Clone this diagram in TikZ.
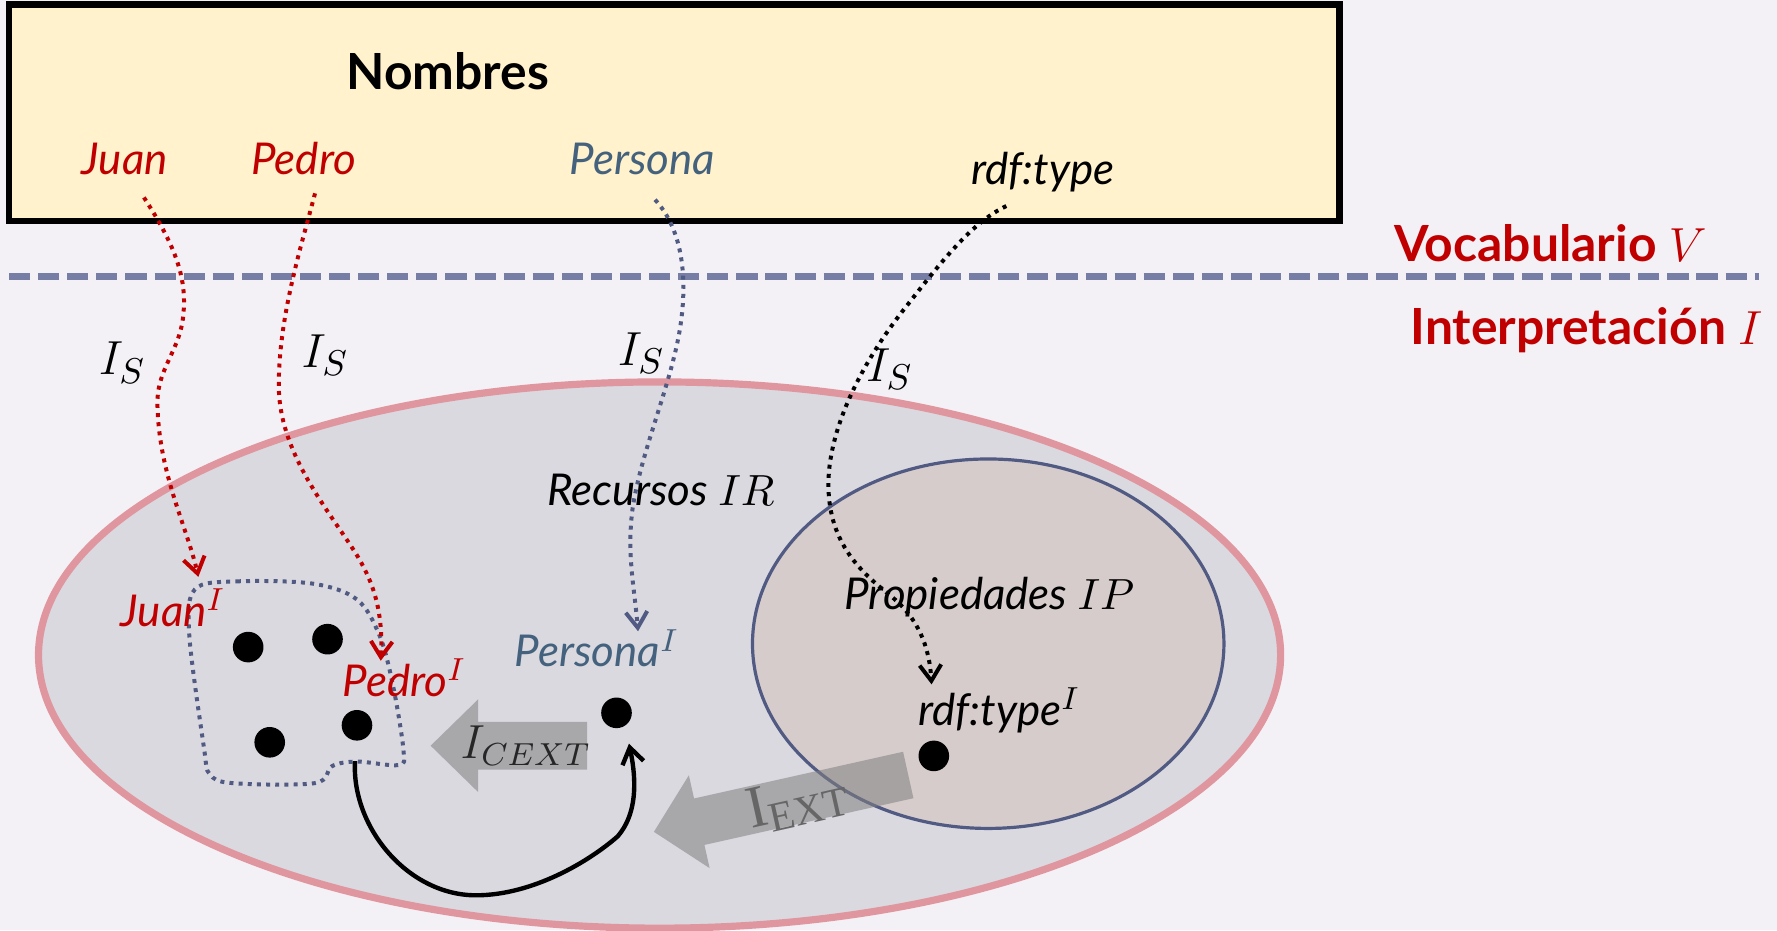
\documentclass[tikz,border=0pt]{standalone}
\usepackage{fontspec}
\setmainfont{Lato}
\newfontfamily\serifa{Liberation Serif}
\usetikzlibrary{arrows.meta, calc}

\definecolor{fondo}{RGB}{243,241,246}
\definecolor{caja}{RGB}{255,242,204}
\definecolor{rojo}{RGB}{192,0,0}
\definecolor{pizarra}{RGB}{68,98,125}
\definecolor{divisor}{RGB}{118,126,166}
\definecolor{recursos}{RGB}{218,217,224}
\definecolor{rosa}{RGB}{224,150,158}
\definecolor{propiedades}{RGB}{215,204,204}
\definecolor{azulosc}{RGB}{80,90,130}

\begin{document}
\begin{tikzpicture}[x=0.01cm, y=-0.01cm,
        % --- ESTILOS ---
        % 1. Nombres del vocabulario y sus interpretaciones
        nombre/.style={font=\itshape\fontsize{11}{13}\selectfont, inner sep=1pt},
        % 2. Rótulos de zona (Vocabulario / Interpretación)
        zona/.style={font=\bfseries\fontsize{12.5}{15}\selectfont, text=rojo, inner sep=1pt},
        % 3. Flechas punteadas de I_S
        interp/.style={line width=1pt, dash pattern=on 1pt off 1.3pt,
                -{Straight Barb[length=1.4mm, width=1.9mm]}},
        % 4. Etiquetas I_S
        isl/.style={font=\fontsize{13}{15}\selectfont, inner sep=1pt},
        % 5. Elementos del dominio
        elem/.style={circle, fill=black, inner sep=0pt, minimum size=0.27cm},
        % 6. Flechas grises gruesas
        bloque/.style={fill=black!50, fill opacity=0.55, draw=none}
    ]

    \useasboundingbox (0,0) rectangle (1568,821);
    \fill[fondo] (0,0) rectangle (1568,821);

    % 1. Caja de nombres
    \draw[line width=1.6pt, fill=caja] (8,4) rectangle (1182,195);
    \node[font=\bfseries\fontsize{12.5}{15}\selectfont, inner sep=1pt] (nombres) at (395,63) {Nombres};
    \node[nombre, text=rojo] (juan) at (110,140) {Juan};
    \node[nombre, text=rojo] (pedro) at (268,140) {Pedro};
    \node[nombre, text=pizarra] (persona) at (567,140) {Persona};
    \node[nombre] (rdftype) at (920,152) {rdf:type};

    % 2. Separación vocabulario / interpretación
    \node[zona] (vocab) at (1368,215) {Vocabulario $V$};
    \node[zona] (interpr) at (1400,291) {Interpretación $I$};
    \draw[divisor, line width=1.7pt, dash pattern=on 5.3pt off 2pt] (8,244) -- (1552,244);

    % 3. Recursos y propiedades
    \draw[fill=recursos, draw=rosa, line width=1.8pt] (582,578) ellipse [x radius=548, y radius=241];
    \draw[fill=propiedades, draw=azulosc, line width=0.8pt] (872,568) ellipse [x radius=208, y radius=163];
    \node[nombre, text=black] (recursos) at (583,432) {Recursos $IR$};
    \node[nombre, text=black] (propiedades) at (873,527) {Propiedades $IP$};

    % extensión de Persona
    \draw[azulosc, line width=1pt, dash pattern=on 1pt off 1.3pt]
    plot[smooth cycle, tension=0.55] coordinates {(172,520) (209,513) (276,515) (315,529) (335,561)
            (347,606) (356,662) (352,675) (315,672) (293,676) (278,691) (205,691) (185,683)
            (180,660) (167,560)};

    % 4. Elementos
    \node[elem] (e1) at (219,571) {};
    \node[elem] (e2) at (289,564) {};
    \node[elem] (e3) at (238,655) {};
    \node[elem] (e4) at (315,640) {};
    \node[elem] (e5) at (544,629) {};
    \node[elem] (e6) at (824,667) {};

    \node[nombre, text=rojo] (juanI) at (153,536) {Juan$^I$};
    \node[nombre, text=rojo] (pedroI) at (357,598) {Pedro$^I$};
    \node[nombre, text=pizarra] (personaI) at (527,572) {Persona$^I$};
    \node[nombre, text=black] (rdftypeI) at (882,627) {rdf:type$^I$};

    % 5. Flechas I_S
    \draw[interp, rojo] ($(juan.south)+(17,16)$) .. controls (150,210) and (165,240) .. (162,275)
    .. controls (160,310) and (137,325) .. (139,360)
    .. controls (141,420) and (165,465) .. ($(juanI.north)+(22,-6)$);
    \draw[interp, rojo] ($(pedro.south)+(10,12)$) .. controls (265,220) and (246,280) .. (246,340)
    .. controls (246,400) and (290,450) .. (315,490)
    .. controls (330,515) and (338,540) .. ($(pedroI.north)+(-21,6)$);
    \draw[interp, azulosc] ($(persona.south)+(11,18)$) .. controls (600,200) and (608,240) .. (600,290)
    .. controls (592,340) and (565,400) .. (558,450)
    .. controls (553,490) and (560,520) .. ($(personaI.north)+(36,6)$);
    \draw[interp, black] ($(rdftype.south)+(-32,8)$) .. controls (860,195) and (835,225) .. (800,270)
    .. controls (760,320) and (730,380) .. (731,430)
    .. controls (732,480) and (760,505) .. (785,525)
    .. controls (810,545) and (820,570) .. ($(rdftypeI.north)+(-60,1)$);

    \node[isl] (is1) at (108,320) {$I_S$};
    \node[isl] (is2) at (287,313) {$I_S$};
    \node[isl] (is3) at (566,312) {$I_S$};
    \node[isl] (is4) at (785,326) {$I_S$};

    % 6. Pedro pertenece a Persona
    \draw[line width=1.1pt, -{Straight Barb[length=1.4mm, width=1.9mm]}, shorten <=9pt]
    (e4.center) .. controls (310,730) and (360,790) .. (420,790)
    .. controls (470,790) and (520,760) .. (545,738)
    .. controls (565,715) and (560,680) .. ($(e5.south)+(11,13)$);

    % 7. Flechas gruesas I_CEXT e I_EXT
    \fill[bloque] (380,658) -- (422,617) -- (422,637) -- (518,637) -- (518,679)
    -- (422,679) -- (422,699) -- cycle;
    \node[isl, font=\fontsize{12}{14}\selectfont, text=black!85] (icext) at (464,658) {$I_{CEXT}$};

    \begin{scope}[shift={(577,734)}, rotate=12.6]
        \fill[bloque] (0,0) -- (41,-42) -- (41,-21) -- (230,-21) -- (230,21)
        -- (41,21) -- (41,42) -- cycle;
        \node[isl, font=\serifa\fontsize{15}{17}\selectfont, rotate=12.6, text=black!60] (iext) at (130,2)
        {I\textsubscript{EXT}};
    \end{scope}

\end{tikzpicture}
\end{document}
